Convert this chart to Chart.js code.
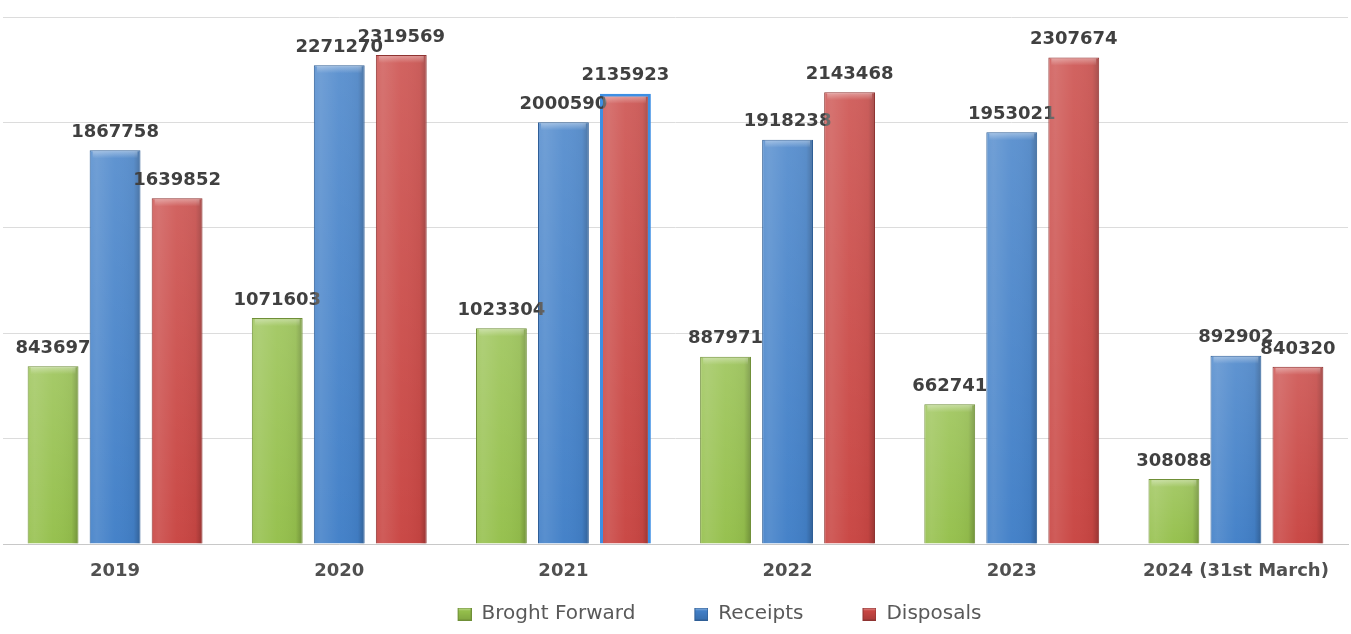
<!DOCTYPE html>
<html>
<head>
<meta charset="utf-8">
<script src="https://cdn.jsdelivr.net/npm/chart.js@4"></script>
<style>
    html, body { margin: 0; padding: 0; background: #ffffff; }
    #wrap { width: 1351px; height: 634px; position: relative; }
</style>
</head>
<body>
<div id="wrap"><canvas id="case_canvas"></canvas></div>
<script>
const year_labels = ["2019", "2020", "2021", "2022", "2023", "2024 (31st March)"];
const brought_forward = [843697, 1071603, 1023304, 887971, 662741, 308088];
const receipts = [1867758, 2271270, 2000590, 1918238, 1953021, 892902];
const disposals = [1639852, 2319569, 2135923, 2143468, 2307674, 840320];

const series_fill = ["#95c04c", "#4280c8", "#c94643"];
const series_edge = ["#6f8f37", "#2f5e96", "#8e3331"];

// the one bar that was selected in the source sheet
const selected_bar = {dataset: 2, index: 2};

function border_list(count, ds) {
    let list = [];
    for (let i = 0; i < count; i++) {
        list.push(ds === selected_bar.dataset && i === selected_bar.index ? "#3d8fe4" : series_edge[ds]);
    }
    return list;
}

function width_list(count, ds) {
    let list = [];
    for (let i = 0; i < count; i++) {
        list.push(ds === selected_bar.dataset && i === selected_bar.index ? 3 : 1);
    }
    return list;
}

// legend marker: transparent lead-in, small shaded square at the right end
const marker_width = 52;
function make_marker(ds) {
    const c = document.createElement("canvas");
    c.width = marker_width;
    c.height = 13;
    const g = c.getContext("2d");
    const x0 = marker_width - 14;
    let grad = g.createLinearGradient(0, 0, 0, 13);
    grad.addColorStop(0, "#ffffff");
    grad.addColorStop(0.25, series_fill[ds]);
    grad.addColorStop(1, series_edge[ds]);
    g.fillStyle = series_fill[ds];
    g.fillRect(x0, 0, 14, 13);
    g.globalAlpha = 0.55;
    g.fillStyle = grad;
    g.fillRect(x0, 0, 14, 13);
    g.globalAlpha = 1;
    g.strokeStyle = series_edge[ds];
    g.lineWidth = 1;
    g.strokeRect(x0 + 0.5, 0.5, 13, 12);
    return c;
}
const legend_markers = [make_marker(0), make_marker(1), make_marker(2)];

// shading + value labels drawn on top of the library's bars
const bar_shading = {
    id: "bar_shading",
    afterDatasetsDraw(chart) {
        const ctx = chart.ctx;
        ctx.save();
        chart.data.datasets.forEach((dataset, di) => {
            const meta = chart.getDatasetMeta(di);
            if (meta.hidden) {return;}
            meta.data.forEach((bar, i) => {
                const p = bar.getProps(["x", "y", "base", "width"], true);
                const bw = bar.options.borderWidth || 1;
                const left = p.x - p.width / 2 + bw;
                const right = p.x + p.width / 2 - bw;
                const top = p.y + bw;
                const bottom = p.base;

                let hg = ctx.createLinearGradient(left, 0, right, 0);
                hg.addColorStop(0, "rgba(255,255,255,0.08)");
                hg.addColorStop(0.12, "rgba(255,255,255,0.12)");
                hg.addColorStop(0.5, "rgba(255,255,255,0.02)");
                hg.addColorStop(0.88, "rgba(0,0,0,0.04)");
                hg.addColorStop(1, "rgba(0,0,0,0.22)");
                ctx.fillStyle = hg;
                ctx.fillRect(left, top, right - left, bottom - top);

                let vg = ctx.createLinearGradient(0, top, 0, bottom);
                vg.addColorStop(0, "rgba(255,255,255,0.14)");
                vg.addColorStop(1, "rgba(255,255,255,0)");
                ctx.fillStyle = vg;
                ctx.fillRect(left, top, right - left, bottom - top);

                let tg = ctx.createLinearGradient(0, top, 0, top + 7);
                tg.addColorStop(0, "rgba(255,255,255,0.35)");
                tg.addColorStop(1, "rgba(255,255,255,0)");
                ctx.fillStyle = tg;
                ctx.fillRect(left + 2, top, right - left - 4, 7);

                ctx.font = "bold 18px 'DejaVu Sans'";
                ctx.fillStyle = "#404040";
                ctx.textAlign = "center";
                ctx.textBaseline = "middle";
                ctx.fillText(String(dataset.data[i]), p.x, p.y - 18);
            });
        });
        ctx.restore();
    }
};

// nudge the legend to the right like in the source
const legend_shift = {
    id: "legend_shift",
    afterLayout(chart) {
        chart.legend.left += 25;
        chart.legend.right += 25;
    }
};

const data = {
    labels: year_labels,
    datasets: [
        {
            label: "Broght Forward",
            data: brought_forward,
            backgroundColor: series_fill[0],
            borderColor: border_list(brought_forward.length, 0),
            borderWidth: width_list(brought_forward.length, 0)
        },
        {
            label: "Receipts",
            data: receipts,
            backgroundColor: series_fill[1],
            borderColor: border_list(receipts.length, 1),
            borderWidth: width_list(receipts.length, 1)
        },
        {
            label: "Disposals",
            data: disposals,
            backgroundColor: series_fill[2],
            borderColor: border_list(disposals.length, 2),
            borderWidth: width_list(disposals.length, 2)
        }
    ]
};

const config = {
    type: "bar",
    data: data,
    options: {
        responsive: true,
        maintainAspectRatio: false,
        animation: false,
        categoryPercentage: 0.83,
        barPercentage: 0.82,
        layout: {
            padding: {top: 17, left: 3, right: 3, bottom: 0}
        },
        scales: {
            x: {
                grid: {display: false, drawTicks: false},
                border: {display: true, color: "#c8c8c8", width: 1},
                ticks: {
                    padding: 17,
                    color: "#505050",
                    font: {family: "'DejaVu Sans'", size: 18, weight: "bold"}
                },
                afterFit: function (scale) {
                    // padding is counted twice by default; keep it once
                    scale.height = 39;
                }
            },
            y: {
                min: 0,
                max: 2500000,
                grid: {color: "#dcdcdc", drawTicks: false},
                border: {display: false},
                ticks: {display: false, stepSize: 500000}
            }
        },
        plugins: {
            legend: {
                position: "bottom",
                labels: {
                    usePointStyle: true,
                    pointStyleWidth: marker_width,
                    padding: 21,
                    color: "#595959",
                    font: {family: "'DejaVu Sans'", size: 20},
                    generateLabels: function (chart) {
                        const items = Chart.defaults.plugins.legend.labels.generateLabels(chart);
                        items.forEach((item, i) => {
                            item.pointStyle = legend_markers[i];
                        });
                        return items;
                    }
                }
            },
            tooltip: {enabled: false}
        }
    },
    plugins: [bar_shading, legend_shift]
};

const case_chart = new Chart(document.getElementById("case_canvas"), config);
</script>
</body>
</html>
